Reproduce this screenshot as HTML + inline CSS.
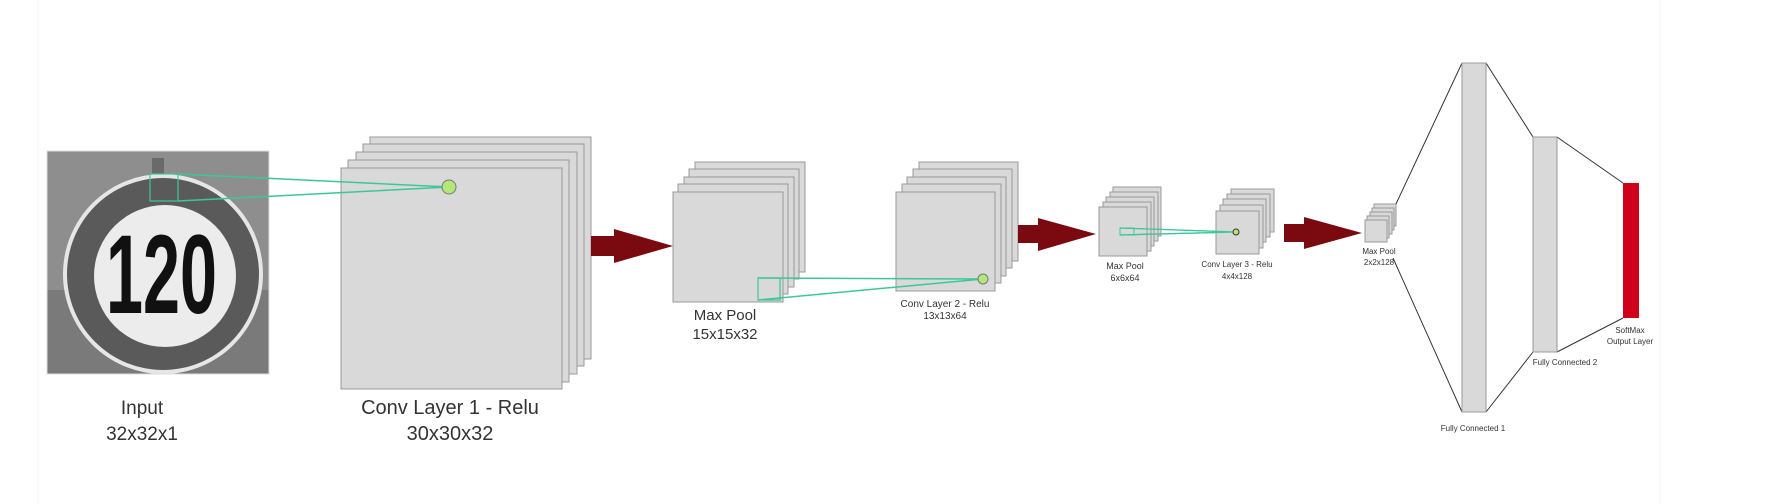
<!DOCTYPE html>
<html><head><meta charset="utf-8"><style>
html,body{margin:0;padding:0;background:#fff;}
svg{display:block;}
text{font-family:"Liberation Sans",sans-serif;fill:#333;}
</style></head><body>
<svg width="1772" height="504" viewBox="0 0 1772 504" xmlns="http://www.w3.org/2000/svg">
<rect width="1772" height="504" fill="#fff"/>
<line x1="38" y1="0" x2="38" y2="504" stroke="#f3f3f3" stroke-width="1"/>
<line x1="1660" y1="0" x2="1660" y2="504" stroke="#f3f3f3" stroke-width="1"/>

<!-- Input image -->
<defs><clipPath id="ic"><rect x="47" y="151" width="222" height="223"/></clipPath></defs>
<g clip-path="url(#ic)">
<rect x="47" y="151" width="222" height="223" fill="#8e8e8e"/>
<rect x="47" y="290" width="222" height="84" fill="#7a7a7a"/>
<rect x="152" y="158" width="12" height="18" fill="#6a6a6a"/>
<rect x="153" y="360" width="12" height="20" fill="#555"/>
<circle cx="163" cy="274" r="100" fill="#e6e6e6"/>
<circle cx="163" cy="274" r="96" fill="#5a5a5a"/>
<circle cx="165" cy="276" r="71" fill="#ececec"/>
<text x="106" y="313" font-size="112" font-weight="bold" textLength="111" lengthAdjust="spacingAndGlyphs" style="fill:#111">120</text>
<rect x="150" y="174" width="28" height="27" fill="none" stroke="#3cc79a" stroke-width="1.2"/>
</g>
<rect x="47" y="151" width="222" height="223" fill="none" stroke="#ddd" stroke-width="1"/>

<!-- Conv1 -->
<g fill="#d9d9d9" stroke="#999" stroke-width="1">
<rect x="370" y="137" width="221" height="222"/>
<rect x="363" y="144" width="221" height="222"/>
<rect x="356" y="152" width="221" height="222"/>
<rect x="348" y="160" width="221" height="222"/>
<rect x="341" y="168" width="221" height="221"/>
</g>
<line x1="178" y1="174" x2="449" y2="187" stroke="#3cc79a" stroke-width="1.5"/>
<line x1="178" y1="201" x2="449" y2="187" stroke="#3cc79a" stroke-width="1.5"/>
<circle cx="449" cy="187" r="7" fill="#b5e67a" stroke="#777" stroke-width="1"/>
<text x="142" y="414" font-size="19" text-anchor="middle">Input</text>
<text x="142" y="440" font-size="19" text-anchor="middle">32x32x1</text>
<text x="450" y="414" font-size="20" text-anchor="middle">Conv Layer 1 - Relu</text>
<text x="450" y="440" font-size="20" text-anchor="middle">30x30x32</text>

<!-- Arrow 1 -->
<polygon points="591,236 614,236 614,229 673,246 614,263 614,256 591,256" fill="#7b0a10"/>

<!-- Max pool 1 -->
<g fill="#d9d9d9" stroke="#999" stroke-width="1">
<rect x="695" y="162" width="110" height="110"/>
<rect x="689" y="169" width="110" height="110"/>
<rect x="684" y="177" width="110" height="110"/>
<rect x="678" y="184" width="110" height="110"/>
<rect x="673" y="192" width="110" height="110"/>
</g>
<rect x="758" y="278" width="22" height="22" fill="none" stroke="#3cc79a" stroke-width="1.2"/>
<text x="725" y="320" font-size="15" text-anchor="middle">Max Pool</text>
<text x="725" y="339" font-size="15" text-anchor="middle">15x15x32</text>

<!-- Conv2 -->
<g fill="#d9d9d9" stroke="#999" stroke-width="1">
<rect x="919" y="162" width="99" height="99"/>
<rect x="913" y="169" width="99" height="99"/>
<rect x="907" y="177" width="99" height="99"/>
<rect x="902" y="184" width="99" height="99"/>
<rect x="896" y="192" width="99" height="99"/>
</g>
<line x1="758" y1="278" x2="983" y2="279" stroke="#3cc79a" stroke-width="1.5"/>
<line x1="758" y1="300" x2="983" y2="279" stroke="#3cc79a" stroke-width="1.5"/>
<circle cx="983" cy="279" r="5" fill="#b5e67a" stroke="#777" stroke-width="1"/>
<text x="945" y="307" font-size="10" text-anchor="middle">Conv Layer 2 - Relu</text>
<text x="945" y="319" font-size="10" text-anchor="middle">13x13x64</text>

<!-- Arrow 2 -->
<polygon points="1018,225 1038,225 1038,218 1096,234 1038,251 1038,243 1018,243" fill="#7b0a10"/>

<!-- Max pool 2 -->
<g fill="#d9d9d9" stroke="#999" stroke-width="1">
<rect x="1113" y="187" width="48" height="49"/>
<rect x="1110" y="192" width="48" height="49"/>
<rect x="1106" y="197" width="48" height="49"/>
<rect x="1103" y="202" width="48" height="49"/>
<rect x="1099" y="207" width="48" height="49"/>
</g>
<rect x="1120" y="228" width="14" height="7" fill="none" stroke="#3cc79a" stroke-width="1"/>
<line x1="1120" y1="228" x2="1236" y2="232" stroke="#3cc79a" stroke-width="1.2"/>
<line x1="1120" y1="235" x2="1236" y2="232" stroke="#3cc79a" stroke-width="1.2"/>
<text x="1125" y="269" font-size="9" text-anchor="middle">Max Pool</text>
<text x="1125" y="281" font-size="9" text-anchor="middle">6x6x64</text>

<!-- Conv3 -->
<g fill="#d9d9d9" stroke="#999" stroke-width="1">
<rect x="1231" y="189" width="43" height="43"/>
<rect x="1227" y="194" width="43" height="43"/>
<rect x="1223" y="199" width="43" height="43"/>
<rect x="1220" y="205" width="43" height="43"/>
<rect x="1216" y="211" width="43" height="43"/>
</g>
<line x1="1120" y1="228" x2="1236" y2="232" stroke="#3cc79a" stroke-width="1.2"/>
<line x1="1120" y1="235" x2="1236" y2="232" stroke="#3cc79a" stroke-width="1.2"/>
<circle cx="1236" cy="232" r="3" fill="#b5e67a" stroke="#333" stroke-width="1"/>
<text x="1237" y="267" font-size="8" text-anchor="middle">Conv Layer 3 - Relu</text>
<text x="1237" y="279" font-size="8" text-anchor="middle">4x4x128</text>

<!-- Arrow 3 -->
<polygon points="1284,224 1304,224 1304,217 1362,233 1304,249 1304,242 1284,242" fill="#7b0a10"/>

<!-- Max pool 3 -->
<g fill="#d9d9d9" stroke="#999" stroke-width="1">
<rect x="1374" y="204" width="22" height="22"/>
<rect x="1372" y="208" width="22" height="22"/>
<rect x="1370" y="212" width="22" height="22"/>
<rect x="1367" y="216" width="22" height="22"/>
<rect x="1365" y="220" width="22" height="22"/>
</g>
<text x="1379" y="254" font-size="8" text-anchor="middle">Max Pool</text>
<text x="1379" y="265" font-size="8" text-anchor="middle">2x2x128</text>

<!-- FC lines -->
<g stroke="#333" stroke-width="1" fill="none">
<line x1="1396" y1="204" x2="1462" y2="63"/>
<line x1="1393" y1="258" x2="1462" y2="412"/>
<line x1="1486" y1="63" x2="1533" y2="137"/>
<line x1="1486" y1="412" x2="1533" y2="352"/>
<line x1="1557" y1="137" x2="1623" y2="183"/>
<line x1="1557" y1="352" x2="1623" y2="318"/>
</g>
<rect x="1462" y="63" width="24" height="349" fill="#d9d9d9" stroke="#999" stroke-width="1"/>
<rect x="1533" y="137" width="24" height="215" fill="#d9d9d9" stroke="#999" stroke-width="1"/>
<rect x="1623" y="183" width="16" height="135" fill="#d0021b"/>
<text x="1473" y="431" font-size="8" text-anchor="middle">Fully Connected 1</text>
<text x="1565" y="365" font-size="8" text-anchor="middle">Fully Connected 2</text>
<text x="1630" y="333" font-size="8" text-anchor="middle">SoftMax</text>
<text x="1630" y="344" font-size="8" text-anchor="middle">Output Layer</text>
</svg>
</body></html>
